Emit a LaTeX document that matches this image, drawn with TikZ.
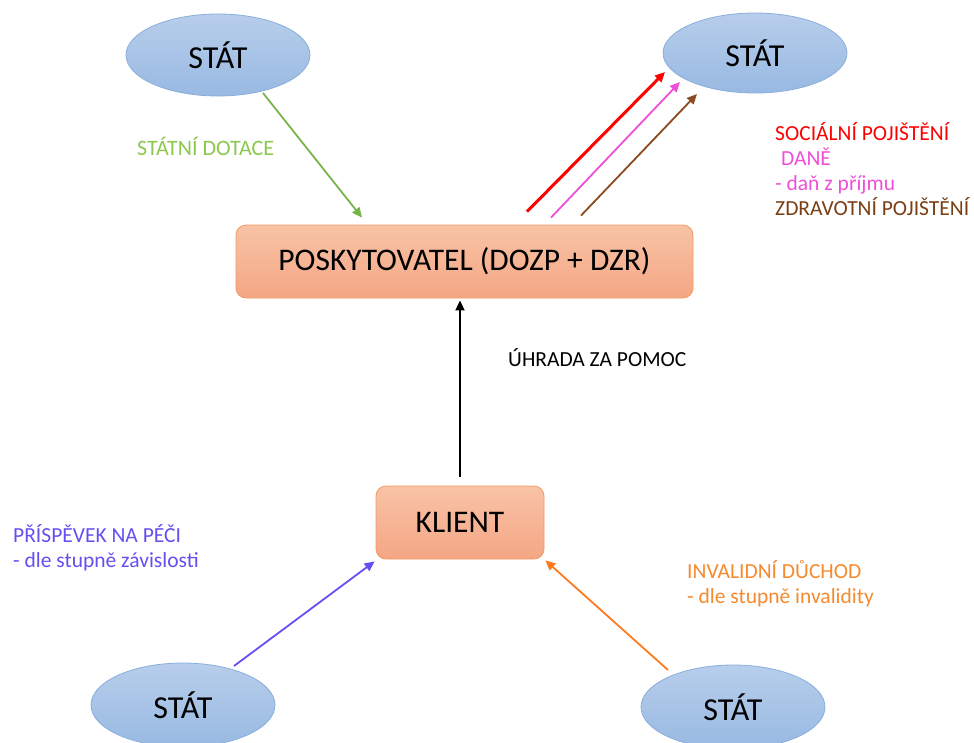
\documentclass[tikz,border=0pt]{standalone}
\usepackage{fontspec}
\setmainfont{Carlito}
\usetikzlibrary{shapes.geometric,arrows.meta,calc}
\definecolor{ellTop}{HTML}{B7CEEB}
\definecolor{ellBot}{HTML}{98B9E2}
\definecolor{ellLine}{HTML}{8AAEDB}
\definecolor{boxTop}{HTML}{F8C3A6}
\definecolor{boxBot}{HTML}{F4A684}
\definecolor{boxLine}{HTML}{F19A63}
\definecolor{cGreen}{HTML}{77B54A}
\definecolor{tGreen}{HTML}{8CC84E}
\definecolor{cRed}{HTML}{FF0000}
\definecolor{cMag}{HTML}{EE4FD8}
\definecolor{cBrown}{HTML}{8C4A1E}
\definecolor{tBrown}{HTML}{7A3E14}
\definecolor{cPurple}{HTML}{6450F0}
\definecolor{cOrange}{HTML}{FF7A1E}
\definecolor{tOrange}{HTML}{F58A2E}
\tikzset{
  stat/.style={ellipse, draw=ellLine, line width=0.8pt, top color=ellTop, bottom color=ellBot,
    minimum width=184pt, minimum height=82pt, inner sep=0pt, font=\fontsize{32}{36}\selectfont},
  box/.style={rectangle, rounded corners=10pt, draw=boxLine, line width=0.8pt, top color=boxTop, bottom color=boxBot,
    inner sep=0pt, font=\fontsize{31.5}{36}\selectfont},
  lbl/.style={anchor=base west, inner sep=0pt, font=\fontsize{21.5}{25}\selectfont},
  arr/.style={line width=1.8pt, -{Triangle[length=10pt,width=9pt]}},
}
\begin{document}
\begin{tikzpicture}[x=1pt,y=-1pt]
\useasboundingbox (0,0) rectangle (974,742);
% nodes
\node[stat] (stat1) at (218,55) {STÁT};
\node[stat, minimum height=80pt] (stat2) at (755,53) {STÁT};
\node[stat, minimum height=84pt] (stat3) at (183,705) {STÁT};
\node[stat, minimum height=84pt] (stat4) at (733,707) {STÁT};
\node[box, minimum width=457pt, minimum height=73pt] (pos) at (464.5,261.5) {POSKYTOVATEL (DOZP + DZR)};
\node[box, minimum width=168pt, minimum height=73pt] (klient) at (460,522.5) {KLIENT};
% labels
\node[lbl, text=tGreen, font=\fontsize{22}{25}\selectfont] (l1) at (137,155) {STÁTNÍ DOTACE};
\node[lbl, text=cRed] (l2a) at (775,140) {SOCIÁLNÍ POJIŠTĚNÍ};
\node[lbl, text=cMag] (l2b) at (781,165) {DANĚ};
\node[lbl, text=cMag] (l2c) at (775,190) {- daň z příjmu};
\node[lbl, text=tBrown] (l2d) at (775,215) {ZDRAVOTNÍ POJIŠTĚNÍ};
\node[lbl, text=black] (l3) at (508,366) {ÚHRADA ZA POMOC};
\node[lbl, text=cPurple] (l4a) at (13,542) {PŘÍSPĚVEK NA PÉČI};
\node[lbl, text=cPurple] (l4b) at (13,567) {- dle stupně závislosti};
\node[lbl, text=tOrange] (l5a) at (687,578) {INVALIDNÍ DŮCHOD};
\node[lbl, text=tOrange] (l5b) at (687,603) {- dle stupně invalidity};
% connectors
\draw[arr, cGreen] ($(stat1.center)+(45,38)$) -- ($(pos.north)+(-102.5,-7)$);
\draw[arr, cRed, line width=3pt] ($(pos.north)+(62.5,-13)$) -- ($(stat2.center)+(-90,19)$);
\draw[arr, cMag] ($(pos.north)+(86.5,-7)$) -- ($(stat2.center)+(-75,29)$);
\draw[arr, cBrown] ($(pos.north)+(116.5,-9)$) -- ($(stat2.center)+(-58,41)$);
\draw[arr, black] ($(klient.north)+(0,-9)$) -- ($(pos.south)+(-4.5,2)$);
\draw[arr, cPurple] ($(stat3.center)+(51,-39)$) -- ($(klient.south west)+(-1,2)$);
\draw[arr, cOrange] ($(stat4.center)+(-65,-37)$) -- ($(klient.south east)+(1,1)$);
\end{tikzpicture}
\end{document}
